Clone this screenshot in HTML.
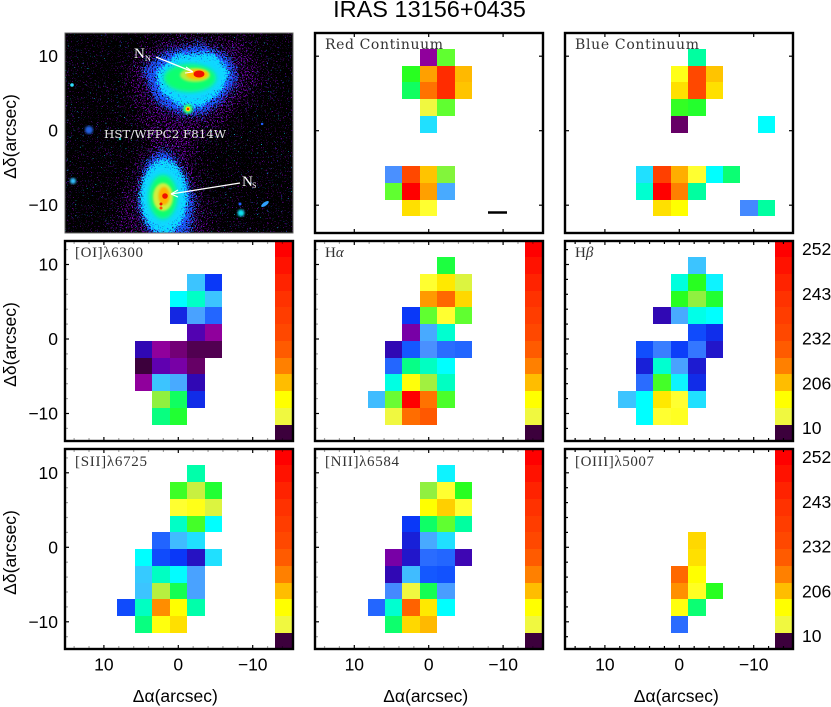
<!DOCTYPE html>
<html>
<head>
<meta charset="utf-8">
<title>IRAS 13156+0435</title>
<style>
html,body{margin:0;padding:0;background:#fff;}
svg{display:block;}
text{font-family:"Liberation Sans",sans-serif;fill:#000;}
.tick{font-size:17.5px;}
.axt{font-size:17.5px;}
.lab{font-family:"Liberation Serif",serif;font-size:15px;fill:#333;}
.cont{font-family:"DejaVu Serif",serif;font-size:14px;fill:#333;}
</style>
</head>
<body>
<svg id="fig" xmlns="http://www.w3.org/2000/svg" width="831" height="707" viewBox="0 0 831 707">
  <defs>
    <filter id="sp1" x="0" y="0" width="100%" height="100%" color-interpolation-filters="sRGB">
      <feTurbulence type="fractalNoise" baseFrequency="0.8" numOctaves="1" seed="4"/>
      <feColorMatrix type="matrix" values="0 0 0 0 0.5  0 0 0 0 0  0 0 0 0 0.72  16 0 0 0 -11"/>
    </filter>
    <filter id="dens1" filterUnits="userSpaceOnUse" x="65" y="33" width="228" height="200" color-interpolation-filters="sRGB">
      <feGaussianBlur in="SourceGraphic" stdDeviation="9" result="bl"/>
      <feColorMatrix in="bl" type="matrix" values="0 0 0 1 0  0 0 0 0 0  0 0 0 0 0  0 0 0 0 1" result="den"/>
      <feTurbulence type="fractalNoise" baseFrequency="0.8" numOctaves="1" seed="9" result="nz"/>
      <feColorMatrix in="nz" type="matrix" values="1 0 0 0 0  0 0 0 0 0  0 0 0 0 0  0 0 0 0 1" result="nzr"/>
      <feComposite in="nzr" in2="den" operator="arithmetic" k1="0" k2="1" k3="0.14" k4="0"/>
      <feColorMatrix type="matrix" values="0 0 0 0 0.5  0 0 0 0 0  0 0 0 0 0.75  16 0 0 0 -10.9"/>
    </filter>
    <filter id="dens2" filterUnits="userSpaceOnUse" x="65" y="33" width="228" height="200" color-interpolation-filters="sRGB">
      <feGaussianBlur in="SourceGraphic" stdDeviation="5" result="bl"/>
      <feColorMatrix in="bl" type="matrix" values="0 0 0 1 0  0 0 0 0 0  0 0 0 0 0  0 0 0 0 1" result="den"/>
      <feTurbulence type="fractalNoise" baseFrequency="0.8" numOctaves="1" seed="13" result="nz"/>
      <feColorMatrix in="nz" type="matrix" values="1 0 0 0 0  0 0 0 0 0  0 0 0 0 0  0 0 0 0 1" result="nzr"/>
      <feComposite in="nzr" in2="den" operator="arithmetic" k1="0" k2="1" k3="0.35" k4="0"/>
      <feColorMatrix type="matrix" values="0 0 0 0 0.1  0 0 0 0 0.35  0 0 0 0 1  16 0 0 0 -11.5"/>
    </filter>
    <filter id="dens3" filterUnits="userSpaceOnUse" x="65" y="33" width="228" height="200" color-interpolation-filters="sRGB">
      <feGaussianBlur in="SourceGraphic" stdDeviation="3" result="bl"/>
      <feColorMatrix in="bl" type="matrix" values="0 0 0 1 0  0 0 0 0 0  0 0 0 0 0  0 0 0 0 1" result="den"/>
      <feTurbulence type="fractalNoise" baseFrequency="0.7" numOctaves="1" seed="21" result="nz"/>
      <feColorMatrix in="nz" type="matrix" values="1 0 0 0 0  0 0 0 0 0  0 0 0 0 0  0 0 0 0 1" result="nzr"/>
      <feComposite in="nzr" in2="den" operator="arithmetic" k1="0" k2="1" k3="0.4" k4="0"/>
      <feColorMatrix type="matrix" values="0 0 0 0 0.05  0 0 0 0 0.85  0 0 0 0 1  16 0 0 0 -11.5"/>
    </filter>
    <filter id="b1"><feGaussianBlur stdDeviation="1"/></filter>
    <filter id="b2"><feGaussianBlur stdDeviation="2"/></filter>
    <clipPath id="imgClip"><rect x="65" y="33" width="228" height="200"/></clipPath>
  </defs>

  <text id="title" x="429.5" y="17" text-anchor="middle" font-size="23.5">IRAS 13156+0435</text>

  <g id="hst" clip-path="url(#imgClip)">
    <rect x="65" y="33" width="228" height="200" fill="#000"/>
    <rect x="65" y="33" width="228" height="200" filter="url(#sp1)"/>
    <g filter="url(#dens1)">
      <path d="M125 65 L165 35 L250 38 L265 80 L225 125 L200 135 L197 175 L215 240 L110 240 L125 190 L150 140 L135 110 Z" fill="#fff"/>
    </g>
    <g filter="url(#dens2)">
      <path d="M140 68 L165 50 L200 42 L232 56 L240 80 L225 100 L205 116 L180 116 L155 104 Z" fill="#fff"/>
      <path d="M145 160 L165 146 L182 165 L197 200 L190 240 L150 240 L136 205 Z" fill="#fff"/>
    </g>
    <g filter="url(#dens3)">
      <path d="M155 72 L176 54 L214 52 L230 72 L222 92 L200 108 L178 106 L160 92 Z" fill="#fff"/>
      <ellipse cx="164" cy="197" rx="24" ry="38" fill="#fff"/>
    </g>

    <g>
      <path d="M164 74 L184 60 L214 60 L227 74 L216 90 L198 100 L180 96 L167 86 Z" fill="#10d8ff" filter="url(#b2)"/>
      <ellipse cx="190" cy="78" rx="26" ry="14" fill="#10ff70" filter="url(#b2)"/>
      <ellipse cx="195" cy="75" rx="15" ry="7" fill="#b0f040" filter="url(#b1)"/>
      <ellipse cx="197" cy="74.500" rx="11" ry="5" fill="#ffc000" filter="url(#b1)"/>
      <ellipse cx="199" cy="74" rx="5.500" ry="3.500" fill="#f01000"/>
    </g>
    <g>
      <ellipse cx="163" cy="197" rx="20" ry="29" fill="#10d8ff" filter="url(#b2)"/>
      <ellipse cx="163" cy="197" rx="14" ry="22" fill="#10ff70" filter="url(#b2)"/>
      <ellipse cx="163" cy="197" rx="10" ry="14" fill="#d0f040" filter="url(#b1)"/>
      <ellipse cx="164" cy="196" rx="5.500" ry="9" fill="#ffb000" filter="url(#b1)"/>
      <circle cx="165" cy="196" r="2.800" fill="#f01000"/>
      <circle cx="161" cy="204" r="1.500" fill="#f01000"/>
      <circle cx="161" cy="208" r="1.500" fill="#ff5000"/>
    </g>
    <g>
      <circle cx="188" cy="109" r="5" fill="#20ff80" filter="url(#b1)"/>
      <circle cx="188" cy="109" r="2.500" fill="#ffd000"/>
      <circle cx="188" cy="109" r="1" fill="#f00000"/>
      <circle cx="89" cy="130" r="4" fill="#2060e0" filter="url(#b1)"/>
      <circle cx="73" cy="181" r="3" fill="#30c0ff" filter="url(#b1)"/>
      <circle cx="72" cy="85" r="1.800" fill="#30e0ff"/>
      <circle cx="241" cy="213" r="3.500" fill="#10e0f0" filter="url(#b1)"/>
      <ellipse cx="265" cy="204" rx="4.500" ry="1.800" transform="rotate(-35 265 204)" fill="#30a0ff"/>
      <circle cx="262" cy="124" r="1.200" fill="#2060ff"/>
      <circle cx="240" cy="204" r="1.500" fill="#2060ff"/>
      <circle cx="120" cy="139" r="1.200" fill="#10c0c0"/>
    </g>

    <g>
      <text x="134" y="58" font-size="15" style="fill:#fff;font-family:'Liberation Serif',serif">N</text>
      <text x="145" y="61" font-size="8" style="fill:#fff;font-family:'Liberation Serif',serif">N</text>
      <line x1="156" y1="57" x2="192" y2="71.500" stroke="#fff" stroke-width="1.300"/>
      <path d="M193 72 L186 67 M193 72 L185 73" stroke="#fff" stroke-width="1.100" fill="none"/>
    </g>
    <g>
      <text x="242" y="186" font-size="15" style="fill:#fff;font-family:'Liberation Serif',serif">N</text>
      <text x="252" y="188" font-size="8" style="fill:#fff;font-family:'Liberation Serif',serif">S</text>
      <line x1="240" y1="183" x2="171" y2="194" stroke="#fff" stroke-width="1.300"/>
      <path d="M171 194 L178 190 M171 194 L178 197" stroke="#fff" stroke-width="1.100" fill="none"/>
    </g>
    <text x="104" y="138" textLength="122" lengthAdjust="spacingAndGlyphs" font-size="11" style="fill:#e8e8e8;font-family:'DejaVu Serif',serif">HST/WFPC2 F814W</text>
  </g>
</svg>

<script>
// Cell levels on the colour ramp. Rows run north to south (n=4..-5), columns east to west (k=-3..5).
const _ = null;
const ramp = ["#3c003c","#660066","#90009c","#6000b0","#3008b4","#1820d8","#0a38f8","#1458ff","#2a6cff","#4a90ff","#48aaff","#3cc4ff","#20e0ff","#00ffff","#00ffd0","#00ffa0","#10ff60","#28ff20","#60ff30","#90f040","#c8f040","#f0f840","#ffff30","#ffff00","#ffe000","#ffc400","#ffa000","#ff8000","#ff6800","#ff4800","#ff2c00","#ff0000"];
const colorbarLevels = [31,30.6,30.2,29.8,29.4,29,28.4,27,25.2,23,21,0];
const colorbarLabels = ["252","243","232","206","10"];
const xTickLabels = [10,0,-10];
const yTickLabels = [10,0,-10];

const redContinuum = [
 [_,_,_,2,18,_,_,_,_],
 [_,_,17,26,30,25.3,_,_,_],
 [_,_,16,27.6,30,25,_,_,_],
 [_,_,_,21,18,_,_,_,_],
 [_,_,_,12,_,_,_,_,_],
 [_,_,_,_,_,_,_,_,_],
 [_,_,_,_,_,_,_,_,_],
 [_,9,29,25,18.7,_,_,_,_],
 [_,18,31,26,10,_,_,_,_],
 [_,_,24,22,_,_,_,_,_]];
const blueContinuum = [
 [_,_,_,_,15,_,_,_,_],
 [_,_,_,22.5,29,25,_,_,_],
 [_,_,_,24,29,24,_,_,_],
 [_,_,_,17.2,16.8,_,_,_,_],
 [_,_,_,1,_,_,_,_,13],
 [_,_,_,_,_,_,_,_,_],
 [_,_,_,_,_,_,_,_,_],
 [_,12,29.3,25.6,22,13,15.7,_,_],
 [_,14,31,27,15,_,_,_,_],
 [_,_,24,23,_,_,_,8.8,15]];
const oiLine = [
 [_,_,_,_,_,_,_,_,_],
 [_,_,_,_,11,6,_,_,_],
 [_,_,_,13,14.2,11,_,_,_],
 [_,_,_,5.3,9.7,7.7,_,_,_],
 [_,_,_,_,3.3,2,_,_,_],
 [_,4,2,1.3,0.5,0.5,_,_,_],
 [_,0,3,2.5,1,_,_,_,_],
 [_,2,11,10,4,_,_,_,_],
 [_,_,19,16,5.5,_,_,_,_],
 [_,_,15.5,16.7,_,_,_,_,_]];
const haLine = [
 [_,_,_,_,16.5,_,_,_,_],
 [_,_,_,22,23.7,20.5,_,_,_],
 [_,_,_,26.2,28,24.3,_,_,_],
 [_,_,6,18,22,18,_,_,_],
 [_,_,2.5,10,14,_,_,_,_],
 [_,4,7,9,8,7.7,_,_,_],
 [_,7.7,15.4,14.3,13,_,_,_,_],
 [_,13.6,22.8,19.3,14.3,_,_,_,_],
 [10.7,18.2,31,27.6,17.6,_,_,_,_],
 [_,21,27.8,28.5,_,_,_,_,_]];
const hbLine = [
 [_,_,_,_,11,_,_,_,_],
 [_,_,_,13.7,17,12.6,_,_,_],
 [_,_,_,17,19,16.7,_,_,_],
 [_,_,4,10,13.5,13,_,_,_],
 [_,_,_,_,6.6,5.6,_,_,_],
 [_,6.7,8.5,6.2,8.3,4.6,_,_,_],
 [_,5,14,9.7,4.8,_,_,_,_],
 [_,8,17.5,12.6,5.5,_,_,_,_],
 [11,13,23.7,22,12,_,_,_,_],
 [_,13,22,22.3,_,_,_,_,_]];
const siiLine = [
 [_,_,_,_,14.8,_,_,_,_],
 [_,_,_,17.4,20,16.7,_,_,_],
 [_,_,_,22,22.5,20.5,_,_,_],
 [_,_,_,14.2,17.5,13,_,_,_],
 [_,_,7.6,10.7,12,_,_,_,_],
 [_,13,6.6,6,4.4,12,_,_,_],
 [_,11.2,14.3,12.9,9.7,_,_,_,_],
 [_,11,19.7,16.2,9.7,_,_,_,_],
 [6.6,14.3,26.6,23,14.8,_,_,_,_],
 [_,15.5,22.7,24,_,_,_,_,_]];
const niiLine = [
 [_,_,_,_,12.6,_,_,_,_],
 [_,_,_,19,22,17,_,_,_],
 [_,_,_,23,24.6,22,_,_,_],
 [_,_,6,15.9,18,15,_,_,_],
 [_,_,5,10,12,_,_,_,_],
 [_,2.5,4.6,8,7.7,3.7,_,_,_],
 [_,4,10.7,7,6.8,_,_,_,_],
 [_,8.8,21,16.2,9.5,_,_,_,_],
 [7.7,14,28.2,23.7,13,_,_,_,_],
 [_,15.8,24.3,25.3,_,_,_,_,_]];
const oiiiLine = [
 [_,_,_,_,_,_,_,_,_],
 [_,_,_,_,_,_,_,_,_],
 [_,_,_,_,_,_,_,_,_],
 [_,_,_,_,_,_,_,_,_],
 [_,_,_,_,24.3,_,_,_,_],
 [_,_,_,_,24,_,_,_,_],
 [_,_,_,28,23,_,_,_,_],
 [_,_,_,26.5,22.3,17,_,_,_],
 [_,_,_,22.7,15.7,_,_,_,_],
 [_,_,_,8,_,_,_,_,_]];

const SVGNS = "http://www.w3.org/2000/svg";
const fig = document.getElementById("fig");
const PW = 228, PH = 200, PXS = 7.44, PYS = 7.45;
const RA_STEP = 2.35, DEC_STEP = 2.25, DEC_ORIGIN = 0.87;

function mk(tag, attrs, parent){
  const e = document.createElementNS(SVGNS, tag);
  for (const k in attrs) e.setAttribute(k, attrs[k]);
  (parent || fig).appendChild(e);
  return e;
}
function hex(c){return [parseInt(c.slice(1,3),16),parseInt(c.slice(3,5),16),parseInt(c.slice(5,7),16)];}
function levelColor(v){
  const lo = Math.max(0, Math.min(ramp.length-1, Math.floor(v)));
  const hi = Math.min(ramp.length-1, lo+1);
  const t = Math.max(0, Math.min(1, v-lo));
  const a = hex(ramp[lo]), b = hex(ramp[hi]);
  return "rgb("+a.map((x,i)=>Math.round(x+(b[i]-x)*t)).join(",")+")";
}

function drawPanel(p){
  const g = mk("g", {});
  
  
  const xS = a => p.x0 - a*PXS;
  const yS = d => p.y0 - d*PYS;

  if (p.data){
    p.data.forEach((row, r) => {
      const n = 4 - r;
      row.forEach((v, c) => {
        if (v === null) return;
        const k = c - 3;
        const ra = -k*RA_STEP, dec = DEC_ORIGIN + n*DEC_STEP;
        const x1 = Math.round(xS(ra + RA_STEP/2)), x2 = Math.round(xS(ra - RA_STEP/2));
        const y1 = Math.round(yS(dec + DEC_STEP/2)), y2 = Math.round(yS(dec - DEC_STEP/2));
        const cell = mk("rect", {x:x1, y:y1, width:x2-x1, height:y2-y1, fill:levelColor(v), "shape-rendering":"crispEdges"}, g);
        
        
      });
    });
  }

  if (p.colorbar){
    const cb = mk("g", {}, g);
    
    
    colorbarLevels.forEach((v, i) => {
      const n = 5 - i;
      const dec = DEC_ORIGIN + n*DEC_STEP;
      const y1 = i === 0 ? p.top : Math.round(yS(dec + DEC_STEP/2));
      const y2 = i === colorbarLevels.length-1 ? p.top+PH : Math.round(yS(dec - DEC_STEP/2));
      const seg = mk("rect", {x:p.left+210, y:y1, width:17, height:y2-y1, fill:levelColor(v), "shape-rendering":"crispEdges"}, cb);
      
      
    });
  }

  // ticks: major at multiples of 10, minor every 2 arcsec
  if (!p.noTicks){
    const ticks = mk("g", {stroke:"#000", "stroke-width":1.2}, g);
    
    
    const minorOp = p.minor === undefined ? 0 : p.minor;
    for (let a = -14; a <= 14; a += 2){
      const major = a % 10 === 0, x = xS(a), len = major ? 4 : 3;
      const op = major ? 1 : minorOp;
      if (op === 0) continue;
      mk("line", {x1:x, x2:x, y1:p.top+PH, y2:p.top+PH-len, "stroke-opacity":op}, ticks);
      mk("line", {x1:x, x2:x, y1:p.top, y2:p.top+len, "stroke-opacity":op}, ticks);
    }
    for (let d = -12; d <= 12; d += 2){
      const major = d % 10 === 0, y = yS(d), len = major ? 4 : 3;
      const op = major ? 1 : minorOp;
      if (op === 0) continue;
      mk("line", {x1:p.left, x2:p.left+len, y1:y, y2:y, "stroke-opacity":op}, ticks);
      if (!p.colorbar) mk("line", {x1:p.left+PW, x2:p.left+PW-len, y1:y, y2:y, "stroke-opacity":op}, ticks);
    }
  }
  const frame = mk("rect", {x:p.left, y:p.top, width:PW, height:PH, fill:"none", stroke:p.frameColor||"#000", "stroke-width":p.frameWidth||2.4}, g);
  
  

  if (p.label){
    const t = mk("text", {x:p.left+10, y:p.top+p.labelDy, class:p.labelClass||"lab"}, g);
    if (p.labelLen) t.setAttribute("textLength", p.labelLen);
    t.textContent = p.label;
    if (p.greek){
      const s = mk("tspan", {"font-style":"italic"}, t);
      s.textContent = p.greek;
    }
    
    
  }

  if (p.yLabels){
    yTickLabels.forEach(v => {
      const t = mk("text", {x:p.left-7, y:yS(v)+6, "text-anchor":"end", class:"tick"}, g);
      t.textContent = v < 0 ? "\u2212"+Math.abs(v) : String(v);
      
      
    });
    const cy = p.top + 103.5;
    const yt = mk("text", {x:0, y:0, transform:"translate(16,"+cy+") rotate(-90)", "text-anchor":"middle", class:"axt"}, g);
    yt.textContent = "\u0394\u03b4(arcsec)";
    
    
  }
  if (p.xLabels){
    xTickLabels.forEach(v => {
      const t = mk("text", {x:xS(v), y:p.top+PH+21.5, "text-anchor":"middle", class:"tick"}, g);
      t.textContent = v < 0 ? "\u2212"+Math.abs(v) : String(v);
      
      
    });
    const xt = mk("text", {x:xS(0)-3, y:702, "text-anchor":"middle", class:"axt"}, g);
    xt.textContent = "\u0394\u03b1(arcsec)";
    
    
  }
  if (p.cbLabels){
    colorbarLabels.forEach((s, i) => {
      const t = mk("text", {x:p.left+PW+9, y:p.top+14+i*44.8, class:"tick"}, g);
      t.textContent = s;
      
      
    });
  }
  return {xS, yS, g};
}

const colX = [{left:65,x0:178.3},{left:315,x0:428.7},{left:565,x0:679.3}];
const rowY = [{top:33,y0:130.7},{top:241,y0:339},{top:449,y0:547.3}];

drawPanel({name:"hst-panel",noTicks:true,frameColor:"#666",frameWidth:1,left:colX[0].left,x0:colX[0].x0,top:rowY[0].top,y0:rowY[0].y0,yLabels:true});
const redPanel = drawPanel({name:"red-continuum-panel",data:redContinuum,left:colX[1].left,x0:colX[1].x0,top:rowY[0].top,y0:rowY[0].y0,label:"Red Continuum",labelClass:"cont",labelLen:118,labelDy:16});
drawPanel({name:"blue-continuum-panel",data:blueContinuum,left:colX[2].left,x0:colX[2].x0,top:rowY[0].top,y0:rowY[0].y0,label:"Blue Continuum",labelClass:"cont",labelLen:124,labelDy:16});

drawPanel({name:"oi-6300-panel",data:oiLine,colorbar:true,minor:.35,yLabels:true,left:colX[0].left,x0:colX[0].x0,top:rowY[1].top,y0:rowY[1].y0,label:"[OI]\u03bb6300",labelLen:68,labelDy:16});
drawPanel({name:"h-alpha-panel",data:haLine,colorbar:true,minor:.35,left:colX[1].left,x0:colX[1].x0,top:rowY[1].top,y0:rowY[1].y0,label:"H",greek:"\u03b1",labelDy:16});
drawPanel({name:"h-beta-panel",data:hbLine,colorbar:true,minor:1,cbLabels:true,left:colX[2].left,x0:colX[2].x0,top:rowY[1].top,y0:rowY[1].y0,label:"H",greek:"\u03b2",labelDy:16});

drawPanel({name:"sii-6725-panel",data:siiLine,colorbar:true,minor:.35,yLabels:true,xLabels:true,left:colX[0].left,x0:colX[0].x0,top:rowY[2].top,y0:rowY[2].y0,label:"[SII]\u03bb6725",labelLen:72,labelDy:17});
drawPanel({name:"nii-6584-panel",data:niiLine,colorbar:true,minor:.35,xLabels:true,left:colX[1].left,x0:colX[1].x0,top:rowY[2].top,y0:rowY[2].y0,label:"[NII]\u03bb6584",labelLen:74,labelDy:17});
drawPanel({name:"oiii-5007-panel",data:oiiiLine,colorbar:true,minor:1,cbLabels:true,xLabels:true,left:colX[2].left,x0:colX[2].x0,top:rowY[2].top,y0:rowY[2].y0,label:"[OIII]\u03bb5007",labelLen:79,labelDy:17});

const scaleBar = mk("line", {x1:488, x2:507, y1:212.5, y2:212.5, stroke:"#000", "stroke-width":2.6}, redPanel.g);


</script>
</body>
</html>
